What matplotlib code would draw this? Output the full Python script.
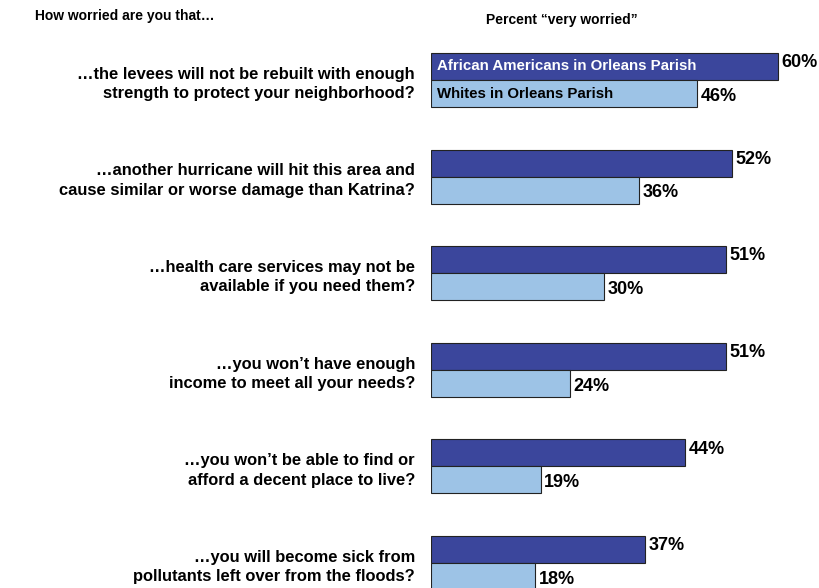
import matplotlib
matplotlib.use('Agg')
import numpy as np
from matplotlib import pyplot as plt

plt.rcParams['font.family'] = ['Liberation Sans', 'DejaVu Sans']

questions = [
    '\u2026the levees will not be rebuilt with enough\nstrength to protect your neighborhood?',
    '\u2026another hurricane will hit this area and\ncause similar or worse damage than Katrina?',
    '\u2026health care services may not be\navailable if you need them?',
    '\u2026you won\u2019t have enough\nincome to meet all your needs?',
    '\u2026you won\u2019t be able to find or\nafford a decent place to live?',
    '\u2026you will become sick from\npollutants left over from the floods?',
]
african_americans = [60, 52, 51, 51, 44, 37]
whites = [46, 36, 30, 24, 19, 18]
series_names = ['African Americans in Orleans Parish', 'Whites in Orleans Parish']

dark = '#3b469c'
light = '#9dc3e6'

fig = plt.figure(figsize=(8.2, 5.88), dpi=100)
ax = fig.add_axes([431 / 820, 0, 1 - 431 / 820, 1])

px = 96.6
y = np.arange(len(questions))
h = 27 / px

ax.barh(y - h / 2, african_americans, height=h, color=dark, edgecolor='#222222', linewidth=0.8)
ax.barh(y + h / 2, whites, height=h, color=light, edgecolor='#222222', linewidth=0.8)

ax.set_xlim(0, (820 - 431) / 5.78)
ax.set_ylim((588 - 80) / px, -80 / px)
ax.axis('off')

for i in range(len(questions)):
    ax.text(african_americans[i] + 0.6, y[i] - h / 2 - 0.04, f'{african_americans[i]}%',
            va='center', ha='left', fontsize=13, fontweight='bold')
    ax.text(whites[i] + 0.6, y[i] + h / 2 + 0.03, f'{whites[i]}%',
            va='center', ha='left', fontsize=13, fontweight='bold')
    fig.text(415 / 820, 1 - (84 + px * i) / 588, questions[i], ha='right', va='center',
             fontsize=11.9, fontweight='bold', linespacing=1.36)

ax.text(1, -h / 2, series_names[0], color='white', va='center', ha='left',
        fontsize=10.8, fontweight='bold')
ax.text(1, h / 2, series_names[1], color='black', va='center', ha='left',
        fontsize=10.8, fontweight='bold')

fig.text(35 / 820, 1 - 16 / 588, 'How worried are you that\u2026', ha='left', va='center',
         fontsize=10, fontweight='bold')
fig.text(486 / 820, 1 - 20 / 588, 'Percent \u201cvery worried\u201d', ha='left', va='center',
         fontsize=10, fontweight='bold')

fig.savefig('out.png', dpi=100)
